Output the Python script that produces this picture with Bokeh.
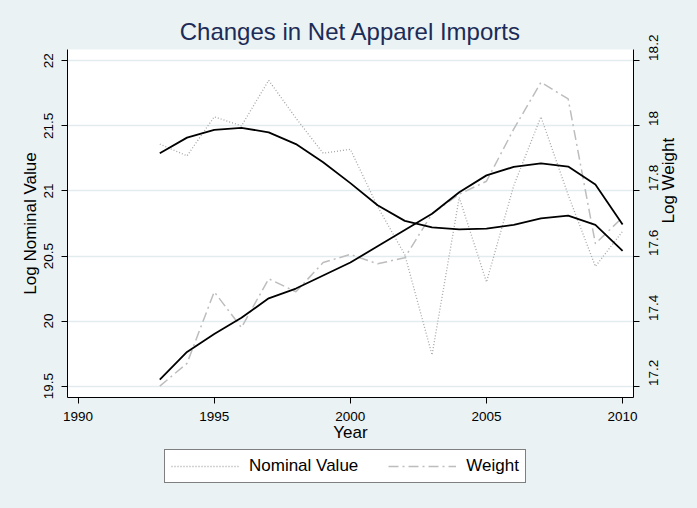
import math
from bokeh.plotting import figure
from bokeh.layouts import column
from bokeh.models import (Range1d, LinearAxis, FixedTicker, NumeralTickFormatter,
                          Legend, LegendItem, ColumnDataSource)
from bokeh.embed import file_html
from bokeh.resources import INLINE

years = list(range(1993, 2011))
nominal = [21.36, 21.27, 21.57, 21.50, 21.85, 21.56, 21.29, 21.32, 20.88, 20.51,
           19.74, 20.95, 20.30, 21.04, 21.57, 20.97, 20.42, 20.69]
weight = [17.20, 17.27, 17.49, 17.38, 17.53, 17.49, 17.58, 17.605, 17.576, 17.595,
          17.73, 17.79, 17.83, 17.99, 18.134, 18.083, 17.638, 17.719]
nominal_fit = [21.29, 21.41, 21.47, 21.485, 21.45, 21.36, 21.22, 21.06, 20.89, 20.77,
               20.72, 20.705, 20.71, 20.74, 20.79, 20.81, 20.74, 20.54]
weight_fit = [17.22, 17.305, 17.36, 17.41, 17.47, 17.50, 17.54, 17.58, 17.63, 17.68,
              17.73, 17.796, 17.848, 17.874, 17.885, 17.875, 17.82, 17.697]
x_ticks = [1990, 1995, 2000, 2005, 2010]
left_ticks = [19.5, 20, 20.5, 21, 21.5, 22]
right_ticks = [17.2, 17.4, 17.6, 17.8, 18.0, 18.2]
series_labels = ["Nominal Value", "Weight"]

BG = "#eaf2f3"
FONT = "Liberation Sans"
NOM_STYLE = dict(line_color="#a6a6a6", line_dash="1 2", line_width=1.3)
WT_STYLE = dict(line_color="#bdbdbd", line_dash="10 4 2 4", line_width=1.5)

src = ColumnDataSource(dict(year=years, nominal=nominal, weight=weight,
                            nominal_fit=nominal_fit, weight_fit=weight_fit))

p = figure(width=697, height=446, output_backend="svg", toolbar_location=None,
           x_range=Range1d(1989.61, 2010.40), y_range=Range1d(19.413, 22.087),
           min_border_left=67, min_border_right=64, min_border_top=49,
           min_border_bottom=49)
p.extra_y_ranges = {"w": Range1d(17.165, 18.235)}

p.background_fill_color = "white"
p.border_fill_color = BG
p.outline_line_color = None

p.title.text = "Changes in Net Apparel Imports"
p.title.align = "center"
p.title.text_font = FONT
p.title.text_font_size = "24px"
p.title.text_font_style = "normal"
p.title.text_color = "#1c2b57"

xa = p.xaxis[0]
xa.ticker = FixedTicker(ticks=x_ticks)
xa.axis_label = "Year"
ya = p.yaxis[0]
ya.ticker = FixedTicker(ticks=left_ticks)
ya.formatter = NumeralTickFormatter(format="0.[0]")
ya.axis_label = "Log Nominal Value"
ya.major_label_orientation = "vertical"

ra = LinearAxis(y_range_name="w", ticker=FixedTicker(ticks=right_ticks),
                formatter=NumeralTickFormatter(format="0.[0]"),
                axis_label="Log Weight")
ra.major_label_orientation = math.pi / 2
p.add_layout(ra, "right")

for ax in [xa, ya, ra]:
    ax.axis_line_color = "black"
    ax.major_tick_line_color = "black"
    ax.major_tick_out = 6
    ax.major_tick_in = 0
    ax.minor_tick_line_color = None
    ax.major_label_text_font = FONT
    ax.major_label_text_font_size = "13.5px"
    ax.major_label_text_color = "black"
    ax.axis_label_text_font = FONT
    ax.axis_label_text_font_size = "17px"
    ax.axis_label_text_font_style = "normal"
    ax.axis_label_text_color = "black"

xa.major_label_standoff = 8
xa.axis_label_standoff = -1
ya.major_label_standoff = 8
ya.axis_label_standoff = 2
ra.major_label_standoff = 14
ra.axis_label_standoff = 3
try:
    ra.axis_label_orientation = math.pi / 2
except Exception:
    pass

p.xgrid.grid_line_color = None
p.ygrid.ticker = FixedTicker(ticks=left_ticks)
p.ygrid.grid_line_color = "#e2ecee"
p.ygrid.grid_line_width = 1.5

p.line("year", "nominal", source=src, **NOM_STYLE)
p.line("year", "weight", source=src, y_range_name="w", **WT_STYLE)
p.line("year", "nominal_fit", source=src, line_color="black", line_width=1.8)
p.line("year", "weight_fit", source=src, y_range_name="w", line_color="black",
       line_width=1.8)

# legend strip below the chart
q = figure(width=697, height=62, output_backend="svg", toolbar_location=None,
           x_range=Range1d(0, 1), y_range=Range1d(0, 1),
           min_border_left=0, min_border_right=0, min_border_top=0, min_border_bottom=0)
q.axis.visible = False
q.grid.visible = False
q.outline_line_color = None
q.background_fill_color = BG
q.border_fill_color = BG
d_nom = q.line([0, 1], [-5, -5], **NOM_STYLE)
d_wt = q.line([0, 1], [-5, -5], **WT_STYLE)

legend = Legend(items=[LegendItem(label=series_labels[0], renderers=[d_nom]),
                       LegendItem(label=series_labels[1], renderers=[d_wt])],
                orientation="horizontal", location=(97, 25))
legend.label_text_font = FONT
legend.label_text_font_size = "17px"
legend.label_text_color = "black"
legend.glyph_width = 68
legend.label_standoff = 10
legend.spacing = 30
legend.padding = 6
legend.margin = 0
legend.border_line_color = "black"
legend.border_line_width = 1
legend.background_fill_color = "white"
legend.background_fill_alpha = 1
legend.click_policy = "none"
q.add_layout(legend, "center")

layout = column(p, q, spacing=0)
html = file_html(layout, INLINE)
html = html.replace("<head>", "<head><style>html,body{background:%s;}</style>" % BG, 1)
open("out.html", "w").write(html)
